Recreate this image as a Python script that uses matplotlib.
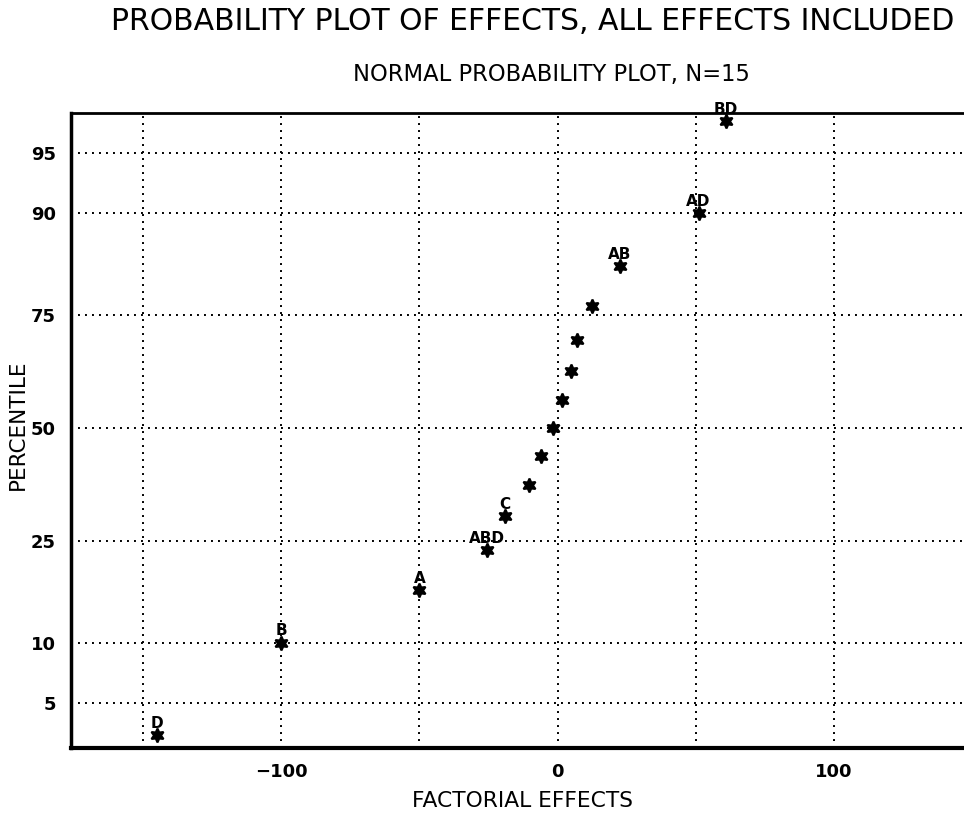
import numpy as np
import matplotlib
matplotlib.use("Agg")
import matplotlib.pyplot as plt
from matplotlib.ticker import FixedLocator, FixedFormatter, NullLocator
from statistics import NormalDist

# effect estimates, sorted, with their plotting percentiles
effects = [-145.0, -100.0, -50.0, -25.5, -19.0, -10.5, -6.0, -1.5,
           1.5, 5.0, 7.0, 12.5, 22.5, 51.0, 61.0]
percentiles = [3.33, 10.0, 16.67, 23.33, 30.0, 36.67, 43.33, 50.0,
               56.67, 63.33, 70.0, 76.67, 83.33, 90.0, 96.67]
labels = ["D", "B", "A", "ABD", "C", "", "", "",
          "", "", "", "", "AB", "AD", "BD"]

y_ticks = [5, 10, 25, 50, 75, 90, 95]
x_ticks = [-100, 0, 100]
x_grid = [-150, -100, -50, 0, 50, 100, 150]

_nd = NormalDist()
_ppf = np.vectorize(_nd.inv_cdf, otypes=[float])
_cdf = np.vectorize(_nd.cdf, otypes=[float])


def _probit(p):
    p = np.clip(np.asarray(p, dtype=float) / 100.0, 1e-9, 1 - 1e-9)
    return _ppf(p)


def _inv_probit(z):
    return _cdf(np.asarray(z, dtype=float)) * 100.0


fig = plt.figure(figsize=(9.64, 8.13), dpi=100)
W, H = 964, 813
ax = fig.add_axes([71 / W, 1 - 748 / H, (964 - 71) / W, (748 - 113) / H])

ax.set_yscale("function", functions=(_probit, _inv_probit))
ax.set_xlim(-176, 147)
ax.set_ylim(2.8, 97.0)

grid_kw = dict(color="black", lw=1.4, ls=(0, (1, 2.6)), zorder=1)
for g in x_grid:
    ax.axvline(g, **grid_kw)
for g in y_ticks:
    ax.axhline(g, **grid_kw)

ax.plot(effects, percentiles, ls="none", marker=(6, 1, 0), ms=10,
        mew=1.5, color="black", zorder=3, clip_on=False)
for x, y, t in zip(effects, percentiles, labels):
    if t:
        ax.annotate(t, (x, y), xytext=(0, 3), textcoords="offset points",
                    ha="center", va="bottom", fontsize=11, fontweight="bold",
                    annotation_clip=False, zorder=4)

ax.yaxis.set_major_locator(FixedLocator(y_ticks))
ax.yaxis.set_major_formatter(FixedFormatter([str(v) for v in y_ticks]))
ax.yaxis.set_minor_locator(NullLocator())
ax.xaxis.set_major_locator(FixedLocator(x_ticks))
ax.xaxis.set_major_formatter(FixedFormatter(["\u2212100", "0", "100"]))
ax.tick_params(length=0, labelsize=13, pad=11)
for lab in ax.get_xticklabels() + ax.get_yticklabels():
    lab.set_fontweight("bold")

ax.spines["right"].set_visible(False)
ax.spines["left"].set_linewidth(2.5)
ax.spines["bottom"].set_linewidth(3)
ax.spines["top"].set_linewidth(2)

fig.text(533 / W, 1 - 22 / H, "PROBABILITY PLOT OF EFFECTS, ALL EFFECTS INCLUDED",
         ha="center", va="center", fontsize=21.5)
fig.text(551 / W, 1 - 75 / H, "NORMAL PROBABILITY PLOT, N=15",
         ha="center", va="center", fontsize=16.3)
fig.text(522 / W, 1 - 801 / H, "FACTORIAL EFFECTS",
         ha="center", va="center", fontsize=15.7)
fig.text(18 / W, 1 - 425 / H, "PERCENTILE", rotation=90,
         ha="center", va="center", fontsize=15.5)

fig.savefig("out.png", dpi=100)
